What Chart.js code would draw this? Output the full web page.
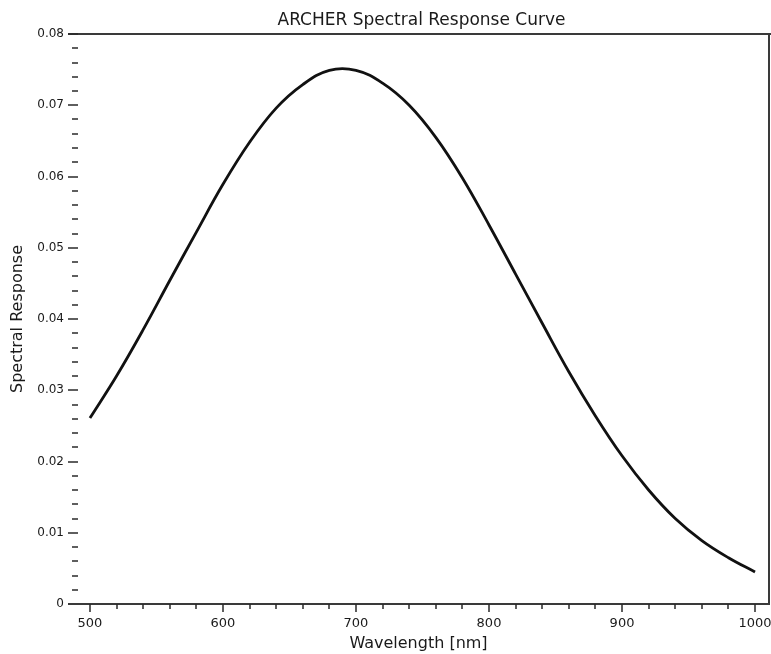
<!DOCTYPE html>
<html><head><meta charset="utf-8">
<script src="https://cdn.jsdelivr.net/npm/chart.js@4/dist/chart.umd.min.js"></script>
<style>html,body{margin:0;padding:0;background:#fff}#wrap{width:771px;height:654px}</style>
</head><body><div id="wrap"><canvas id="c" width="771" height="654"></canvas></div>
<script>
const chartTitle = 'ARCHER Spectral Response Curve';
const xAxisTitle = 'Wavelength [nm]';
const yAxisTitle = 'Spectral Response';
const wavelengths = [500,520,540,560,580,600,620,640,660,680,700,720,740,760,780,800,820,840,860,880,900,920,940,960,980,1000];
const response = [0.0261,0.0320,0.0385,0.0454,0.0522,0.0589,0.0648,0.0696,0.0729,0.0749,0.0749,0.0731,0.0700,0.0655,0.0598,0.0532,0.0463,0.0394,0.0326,0.0264,0.0208,0.0160,0.0120,0.0089,0.0065,0.0045];
const xTickLabels = ['500','600','700','800','900','1000'];
const yTickLabels = ['0','0.01','0.02','0.03','0.04','0.05','0.06','0.07','0.08'];

const FONT = 'DejaVu Sans';
const isMajorY = v => Math.abs(v * 100 - Math.round(v * 100)) < 1e-6;
const isMajorX = v => Math.abs(v / 100 - Math.round(v / 100)) < 1e-6;

const framePlugin = {
  id: 'frame',
  afterDraw(chart) {
    const {ctx, chartArea: a, scales: {x, y}} = chart;
    ctx.save();
    ctx.strokeStyle = '#3a3a3a';
    ctx.lineWidth = 2;
    ctx.beginPath();
    ctx.moveTo(a.left, a.top); ctx.lineTo(a.right + 2, a.top);
    ctx.moveTo(a.right, a.top); ctx.lineTo(a.right, a.bottom);
    ctx.moveTo(a.left, a.bottom); ctx.lineTo(a.right + 1, a.bottom);
    ctx.stroke();
    ctx.strokeStyle = '#2a2a2a';
    ctx.lineWidth = 1.5;
    ctx.beginPath();
    y.ticks.forEach(t => {
      if (t.value <= 0) return;
      const py = Math.round(y.getPixelForValue(t.value));
      const major = isMajorY(t.value);
      ctx.moveTo(major ? a.left : a.left + 4, py);
      ctx.lineTo(a.left + 10, py);
    });
    x.ticks.forEach(t => {
      const px = Math.round(x.getPixelForValue(t.value));
      const major = isMajorX(t.value);
      ctx.moveTo(px, a.bottom);
      ctx.lineTo(px, a.bottom + (major ? 8 : 5));
    });
    ctx.stroke();
    ctx.fillStyle = '#1a1a1a';
    ctx.font = '17px "' + FONT + '"';
    ctx.textAlign = 'center';
    ctx.textBaseline = 'middle';
    ctx.fillText(chartTitle, (a.left + a.right) / 2 + 3, 21);
    ctx.restore();
  }
};

new Chart(document.getElementById('c'), {
  type: 'line',
  data: {
    datasets: [{
      data: wavelengths.map((w, i) => ({x: w, y: response[i]})),
      borderColor: '#111111',
      borderWidth: 2.8,
      pointRadius: 0,
      fill: false,
      tension: 0.4
    }]
  },
  options: {
    responsive: false,
    animation: false,
    devicePixelRatio: 1,
    layout: {padding: {top: 34, right: 2, left: 0, bottom: 0}},
    plugins: {legend: {display: false}, tooltip: {enabled: false}, title: {display: false}},
    scales: {
      x: {
        type: 'linear', min: 483.5, max: 1010.5,
        afterFit: s => { s.height = 50; s.paddingLeft = 0; s.paddingRight = 0; },
        grid: {display: false, drawTicks: false}, border: {display: false},
        ticks: {
          stepSize: 20, includeBounds: false, autoSkip: false, maxRotation: 0, padding: 12,
          color: '#1a1a1a', font: {family: FONT, size: 13},
          callback: v => isMajorX(v) ? xTickLabels[Math.round((v - 500) / 100)] : ''
        },
        title: {display: true, text: xAxisTitle, color: '#1a1a1a', font: {family: FONT, size: 16}, padding: {top: 0, bottom: 1}}
      },
      y: {
        type: 'linear', min: 0, max: 0.08,
        afterFit: s => { s.width = 68; },
        grid: {display: false, drawTicks: false}, border: {display: false},
        ticks: {
          stepSize: 0.002, autoSkip: false, padding: 4,
          color: '#1a1a1a', font: {family: FONT, size: 12},
          callback: v => isMajorY(v) ? yTickLabels[Math.round(v * 100)] : ''
        },
        title: {display: true, text: yAxisTitle, color: '#1a1a1a', font: {family: FONT, size: 16}, padding: {top: 8, bottom: 0}}
      }
    }
  },
  plugins: [framePlugin]
});
</script>
</body></html>
